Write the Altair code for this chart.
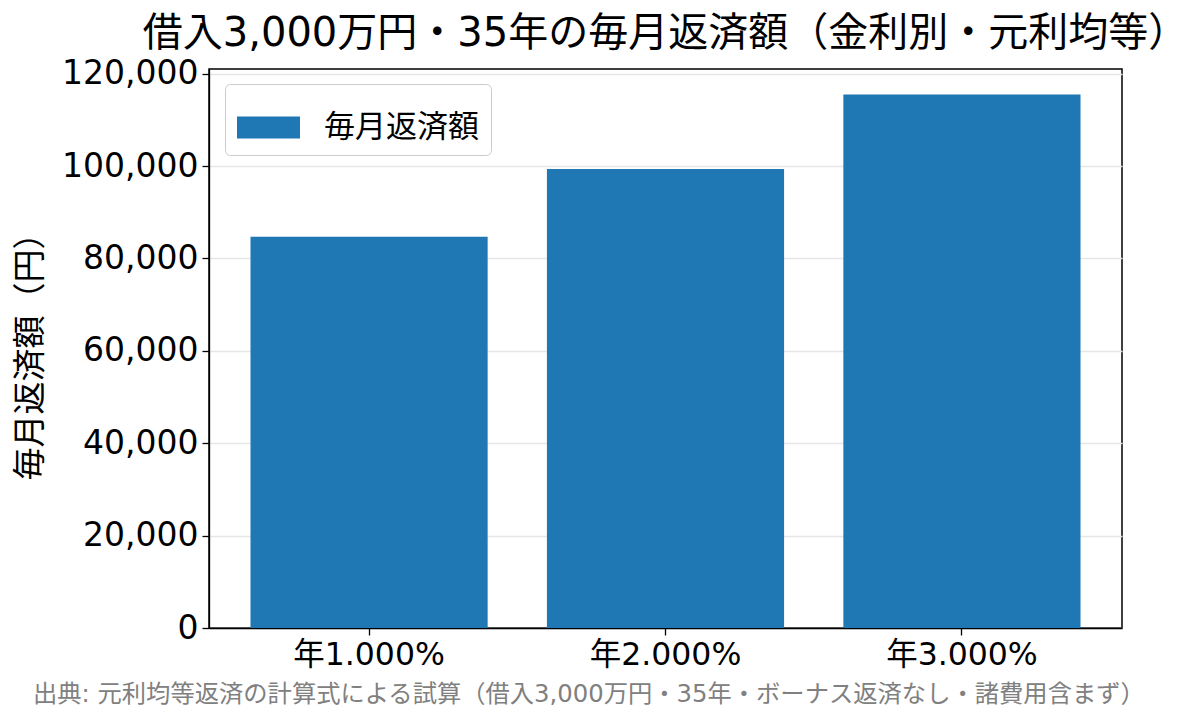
import altair as alt
import pandas as pd

categories = ["年1.000%", "年2.000%", "年3.000%"]
monthly_payment = [84685, 99378, 115455]
series_name = "毎月返済額"
y_ticks = [0, 20000, 40000, 60000, 80000, 100000, 120000]
title_text = "借入3,000万円・35年の毎月返済額（金利別・元利均等）"
y_title = "毎月返済額（円）"
footnote = "出典: 元利均等返済の計算式による試算（借入3,000万円・35年・ボーナス返済なし・諸費用含まず）"

FONT = "DejaVu Sans, Noto Sans CJK JP"

df = pd.DataFrame({"cat": categories, "val": monthly_payment, "series": [series_name] * 3})
note_df = pd.DataFrame({"t": [footnote]})

W, H = 913, 559

bars = alt.Chart(df).mark_bar(color="#1f77b4").encode(
    x=alt.X("cat:N", sort=categories,
            scale=alt.Scale(paddingInner=0.2, paddingOuter=0.14),
            axis=alt.Axis(title=None, labelAngle=0, labelFontSize=31.5, labelFont=FONT,
                          labelColor="black", tickColor="black", tickSize=7, tickWidth=1.3,
                          domainColor="black", domainWidth=1.3, labelPadding=4, grid=False)),
    y=alt.Y("val:Q", scale=alt.Scale(domain=[0, 121000], nice=False, zero=True),
            axis=alt.Axis(title=y_title, values=y_ticks, format=",d", labelFontSize=33,
                          labelFont=FONT, labelColor="black", tickColor="black", tickSize=7,
                          tickWidth=1.3, domainColor="black", domainWidth=1.3, labelPadding=4,
                          titleFontSize=33, titleFont=FONT, titleFontWeight="normal",
                          titleColor="black", titleAngle=270, titleAlign="center",
                          titleBaseline="middle", titleX=-179, titleY=279,
                          grid=True, gridColor="#e6e6e6", gridWidth=1.5)),
    color=alt.Color("series:N", scale=alt.Scale(range=["#1f77b4"]),
                    legend=alt.Legend(title=None, orient="none", legendX=16, legendY=15,
                                      padding=12, strokeColor="#cccccc", fillColor="white",
                                      cornerRadius=5, labelFontSize=31, labelFont=FONT,
                                      labelColor="black", labelOffset=24,
                                      symbolType="M-1,-0.35L1,-0.35L1,0.35L-1,0.35Z",
                                      symbolSize=3969, symbolStrokeWidth=0,
                                      symbolOpacity=1)),
)

note = alt.Chart(note_df).mark_text(align="left", baseline="middle", fontSize=24.3,
                                    font=FONT, color="#808080").encode(
    text="t:N", x=alt.value(-176), y=alt.value(626)
)

chart = alt.layer(bars, note).properties(
    width=W, height=H,
    title=alt.TitleParams(title_text, fontSize=40, font=FONT, fontWeight="normal",
                          color="black", anchor="middle", offset=4),
    autosize=alt.AutoSizeParams(type="none"),
    padding={"left": 201, "top": 61, "right": 70, "bottom": 84},
).configure(background="white").configure_view(stroke="black", strokeWidth=1.5)

chart.save("out.html", embed_options={"renderer": "svg", "actions": False})
